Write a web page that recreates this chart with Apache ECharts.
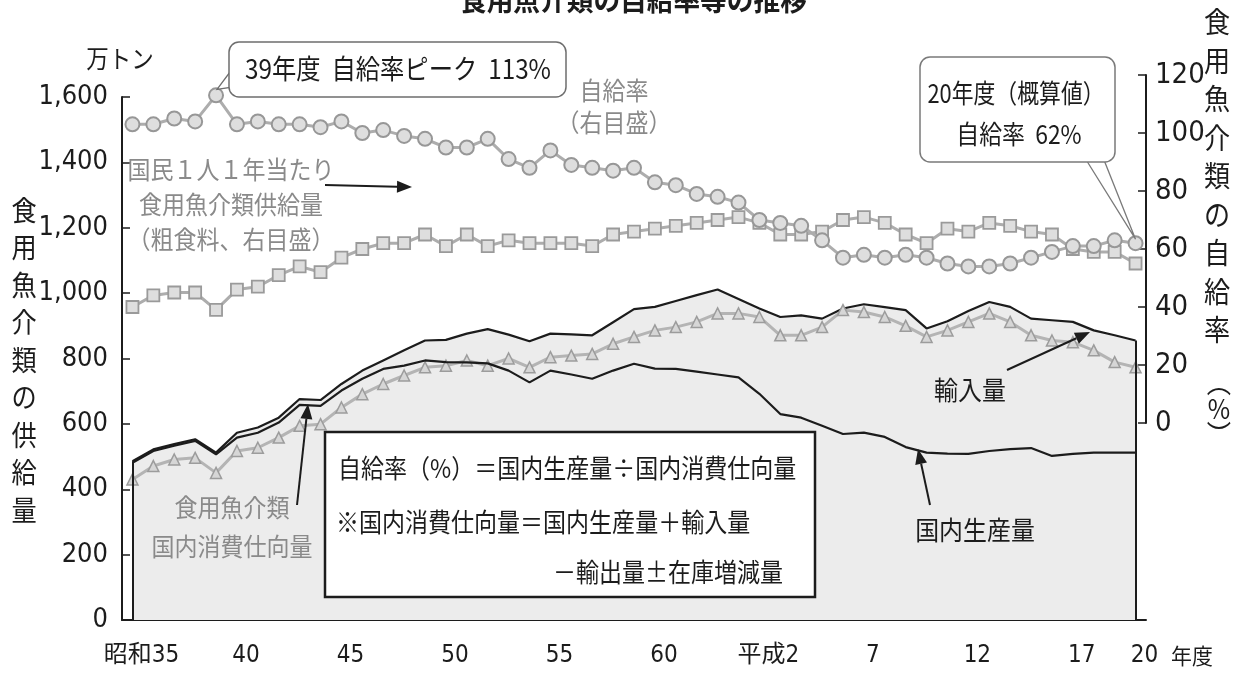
<!DOCTYPE html>
<html>
<head>
<meta charset="utf-8">
<script src="https://cdn.jsdelivr.net/npm/echarts@6/dist/echarts.min.js"></script>
<style>
  html, body { margin: 0; padding: 0; background: #fff; }
  #c { width: 1239px; height: 674px; }
</style>
</head>
<body>
<div id="c"></div>
<script>
// 年度（昭和35〜63、平成元〜20）
const fiscalYears = [];
for (let y = 35; y <= 63; y++) fiscalYears.push(y === 35 ? '昭和35' : String(y));
for (let y = 1; y <= 20; y++) fiscalYears.push(y === 1 ? '平成元' : String(y));

// 目盛に表示する年度
const labelIndex = [0, 5, 10, 15, 20, 25, 30, 35, 40, 45, 48];
const labelText  = ['昭和35', '40', '45', '50', '55', '60', '平成2', '7', '12', '17', '20'];

// 食用魚介類の自給率（%、右目盛）
const selfRate = [103, 103, 105, 104, 113, 103, 104, 103, 103, 102,
                  104, 100, 101, 99, 98, 95, 95, 98, 91, 88,
                  94, 89, 88, 87, 88, 83, 82, 79, 78, 76,
                  70, 69, 68, 63, 57, 58, 57, 58, 57, 55,
                  54, 54, 55, 57, 59, 61, 61, 63, 62];

// 国民1人1年当たり食用魚介類供給量（粗食料、kg、右目盛）
const perCapita = [40, 44, 45, 45, 39, 46, 47, 51, 54, 52,
                   57, 60, 62, 62, 65, 61, 65, 61, 63, 62,
                   62, 62, 61, 65, 66, 67, 68, 69, 70, 71,
                   69, 65, 65, 66, 70, 71, 69, 65, 62, 67,
                   66, 69, 68, 66, 65, 60, 59, 59, 55];

// 国内生産量＋輸入量（万トン）
const supplyTotal = [486, 522, 538, 553, 512, 573, 589, 619, 676, 673,
                     722, 763, 794, 825, 855, 857, 876, 890, 873, 853,
                     876, 874, 871, 911, 951, 958, 976, 994, 1011, 982,
                     953, 927, 932, 922, 953, 966, 957, 948, 892, 914,
                     945, 973, 958, 922, 917, 912, 886, 871, 855];

// 国内生産量（万トン）
const production = [481, 517, 533, 548, 507, 558, 573, 604, 658, 655,
                    702, 738, 768, 778, 794, 789, 788, 785, 763, 727,
                    763, 751, 738, 763, 784, 769, 768, 760, 751, 742,
                    692, 630, 619, 594, 569, 573, 560, 529, 512, 509,
                    508, 517, 523, 526, 502, 508, 512, 512, 512];

// 食用魚介類国内消費仕向量（万トン）
const consumption = [430, 471, 491, 496, 450, 517, 527, 558, 594, 599,
                     650, 691, 722, 748, 773, 778, 794, 778, 800, 773,
                     804, 809, 814, 845, 866, 886, 896, 912, 938, 938,
                     927, 871, 871, 896, 948, 942, 927, 900, 866, 886,
                     912, 938, 912, 871, 855, 850, 825, 789, 773];

const NUM = "'Liberation Sans Narrow','DejaVu Sans Condensed','Noto Sans CJK JP',sans-serif";
const JP = "'Noto Sans CJK JP','Noto Sans',sans-serif";
const INK = '#1c1c1c';
const GRAY_TXT = '#8a8a8a';

const chart = echarts.init(document.getElementById('c'), null, { renderer: 'canvas' });

const option = {
  backgroundColor: '#ffffff',
  animation: false,
  grid: [
    { left: 122, width: 1024, top: 97, height: 523 },
    { left: 122, width: 1024, top: 75, height: 348 }
  ],
  xAxis: [
    {
      type: 'category', gridIndex: 0, data: fiscalYears, boundaryGap: true,
      axisLine: { lineStyle: { color: INK, width: 2 } },
      axisTick: { inside: true, length: 8, alignWithLabel: true, interval: 0, lineStyle: { color: INK, width: 1.5 } },
      axisLabel: {
        interval: 0, color: INK, fontSize: 24, fontFamily: NUM, margin: 24,
        padding: [0, 0, 0, 18],
        formatter: (v, i) => { const k = labelIndex.indexOf(i); return k >= 0 ? labelText[k] : ''; }
      }
    },
    { type: 'category', gridIndex: 1, data: fiscalYears, boundaryGap: true, show: false }
  ],
  yAxis: [
    {
      type: 'value', gridIndex: 0, min: 0, max: 1600, interval: 200,
      axisLine: { show: true, lineStyle: { color: INK, width: 2 } },
      axisTick: { show: true, inside: true, length: 8, lineStyle: { color: INK, width: 1.5 } },
      splitLine: { show: false },
      axisLabel: { color: INK, fontSize: 27, fontFamily: NUM, margin: 14,
                   formatter: v => v.toLocaleString('en-US') }
    },
    {
      type: 'value', gridIndex: 1, position: 'right', min: 0, max: 120, interval: 20,
      axisLine: { show: true, lineStyle: { color: INK, width: 2 } },
      axisTick: { show: true, inside: true, length: 8, lineStyle: { color: INK, width: 1.5 } },
      splitLine: { show: false },
      axisLabel: { color: INK, fontSize: 29, fontFamily: NUM, margin: 9 }
    }
  ],
  series: [
    {
      name: '国内生産量＋輸入量', type: 'line', xAxisIndex: 0, yAxisIndex: 0,
      data: supplyTotal, symbol: 'none', z: 1,
      lineStyle: { color: INK, width: 2.2 },
      areaStyle: { color: '#ececec', opacity: 1 },
      markLine: {
        silent: true, symbol: ['none', 'none'], label: { show: false },
        lineStyle: { color: INK, width: 2, type: 'solid' },
        data: [
          [{ coord: [fiscalYears[0], 0] }, { coord: [fiscalYears[0], supplyTotal[0]] }],
          [{ coord: [fiscalYears[48], 0] }, { coord: [fiscalYears[48], supplyTotal[48]] }]
        ]
      }
    },
    {
      name: '国内消費仕向量', type: 'line', xAxisIndex: 0, yAxisIndex: 0,
      data: consumption, symbol: 'triangle', symbolSize: 11, showAllSymbol: true, z: 2,
      lineStyle: { color: '#b4b4b4', width: 3 },
      itemStyle: { color: '#d6d6d6', borderColor: '#9c9c9c', borderWidth: 1.5 }
    },
    {
      name: '国内生産量', type: 'line', xAxisIndex: 0, yAxisIndex: 0,
      data: production, symbol: 'none', z: 3,
      lineStyle: { color: INK, width: 2.2 }
    },
    {
      name: '国民1人1年当たり供給量', type: 'line', xAxisIndex: 1, yAxisIndex: 1,
      data: perCapita, symbol: 'rect', symbolSize: 12, showAllSymbol: true, z: 4,
      lineStyle: { color: '#adadad', width: 3 },
      itemStyle: { color: '#dedede', borderColor: '#9a9a9a', borderWidth: 1.8 }
    },
    {
      name: '自給率', type: 'line', xAxisIndex: 1, yAxisIndex: 1,
      data: selfRate, symbol: 'circle', symbolSize: 14, showAllSymbol: true, z: 5,
      lineStyle: { color: '#adadad', width: 3 },
      itemStyle: { color: '#dedede', borderColor: '#979797', borderWidth: 2 }
    }
  ]
};

chart.setOption(option);

// 注記（吹き出し・矢印・説明文）
function arrow(x1, y1, x2, y2) {
  const a = Math.atan2(y2 - y1, x2 - x1), L = 15, W = 6;
  const bx = x2 - L * Math.cos(a), by = y2 - L * Math.sin(a);
  return [
    { type: 'line', z: 100, shape: { x1, y1, x2: bx, y2: by }, style: { stroke: INK, lineWidth: 2 } },
    { type: 'polygon', z: 100, shape: { points: [[x2, y2],
        [bx + W * Math.sin(a), by - W * Math.cos(a)],
        [bx - W * Math.sin(a), by + W * Math.cos(a)]] }, style: { fill: INK } }
  ];
}
// 縦長の字形に寄せるため横方向を詰めて描く
function txt(x, y, text, size, color, extra, sx) {
  return { type: 'text', z: 100, x, y, scaleX: sx || 1,
    style: Object.assign({ text, fill: color, fontSize: size, fontFamily: JP,
      align: 'center', verticalAlign: 'middle' }, extra || {}) };
}

const peak = chart.convertToPixel({ seriesIndex: 4 }, [4, selfRate[4]]);
const last = chart.convertToPixel({ seriesIndex: 4 }, [48, selfRate[48]]);

const graphics = [
  // 表題
  txt(460, 0, '食用魚介類の自給率等の推移', 29, INK, { align: 'left', fontWeight: 'bold' }, 0.92),
  // 単位・軸名
  txt(120, 58, '万トン', 25, INK, null, 0.9),
  txt(24, 360, '食\n用\n魚\n介\n類\nの\n供\n給\n量', 28, INK, { lineHeight: 37.5 }, 0.9),
  txt(1217, 176, '食\n用\n魚\n介\n類\nの\n自\n給\n率', 29, INK, { lineHeight: 38.5 }, 0.9),
  txt(1219, 409, '︵\n%\n︶', 27, INK, { lineHeight: 26 }, 0.9),
  txt(1192, 656, '年度', 22, INK, null, 0.95),

  // 39年度の吹き出し
  { type: 'polygon', z: 99, shape: { points: [[236, 64], [peak[0] + 1, peak[1] - 6], [240, 86]] },
    style: { fill: '#fff', stroke: '#6e6e6e', lineWidth: 1.3 } },
  { type: 'rect', z: 100, shape: { x: 229, y: 42, width: 337, height: 55, r: 10 },
    style: { fill: '#fff', stroke: '#6e6e6e', lineWidth: 1.5 } },
  txt(398, 69, '39年度  自給率ピーク  113%', 27, INK, null, 0.9),

  // 20年度の吹き出し
  { type: 'polygon', z: 99, shape: { points: [[1080, 150], [last[0], last[1] - 4], [1100, 150]] },
    style: { fill: '#fff', stroke: '#7a7a7a', lineWidth: 1.3 } },
  { type: 'rect', z: 100, shape: { x: 920, y: 57, width: 195, height: 105, r: 10 },
    style: { fill: '#fff', stroke: '#7a7a7a', lineWidth: 1.5 } },
  txt(1016, 93, '20年度（概算値）', 26, INK, null, 0.84),
  txt(1019, 134, '自給率  62%', 26, INK, null, 0.88),

  // 系列の説明
  txt(614, 106, '自給率\n（右目盛）', 25, GRAY_TXT, { lineHeight: 32 }, 0.92),
  txt(231, 204, '国民１人１年当たり\n食用魚介類供給量\n（粗食料、右目盛）', 25, GRAY_TXT, { lineHeight: 35 }, 0.92),
  txt(232, 527, '食用魚介類\n国内消費仕向量', 25, GRAY_TXT, { lineHeight: 39 }, 0.92),
  txt(970, 390, '輸入量', 26, INK, null, 0.92),
  txt(975, 530, '国内生産量', 26, INK, null, 0.92),
  ...arrow(325, 185, 412, 187),
  ...arrow(297, 505, 308, 404),
  ...arrow(1007, 370, 1090, 332),
  ...arrow(930, 505, 918, 449),

  // 自給率の定義
  { type: 'rect', z: 100, shape: { x: 325, y: 432, width: 490, height: 165 },
    style: { fill: '#fff', stroke: INK, lineWidth: 2.5 } },
  txt(338, 468, '自給率（%）＝国内生産量÷国内消費仕向量', 26, INK, { align: 'left' }, 0.885),
  txt(336, 522, '※国内消費仕向量＝国内生産量＋輸入量', 26, INK, { align: 'left' }, 0.885),
  txt(553, 572, '－輸出量±在庫増減量', 26, INK, { align: 'left' }, 0.885)
];

chart.setOption({ graphic: graphics });
</script>
</body>
</html>
